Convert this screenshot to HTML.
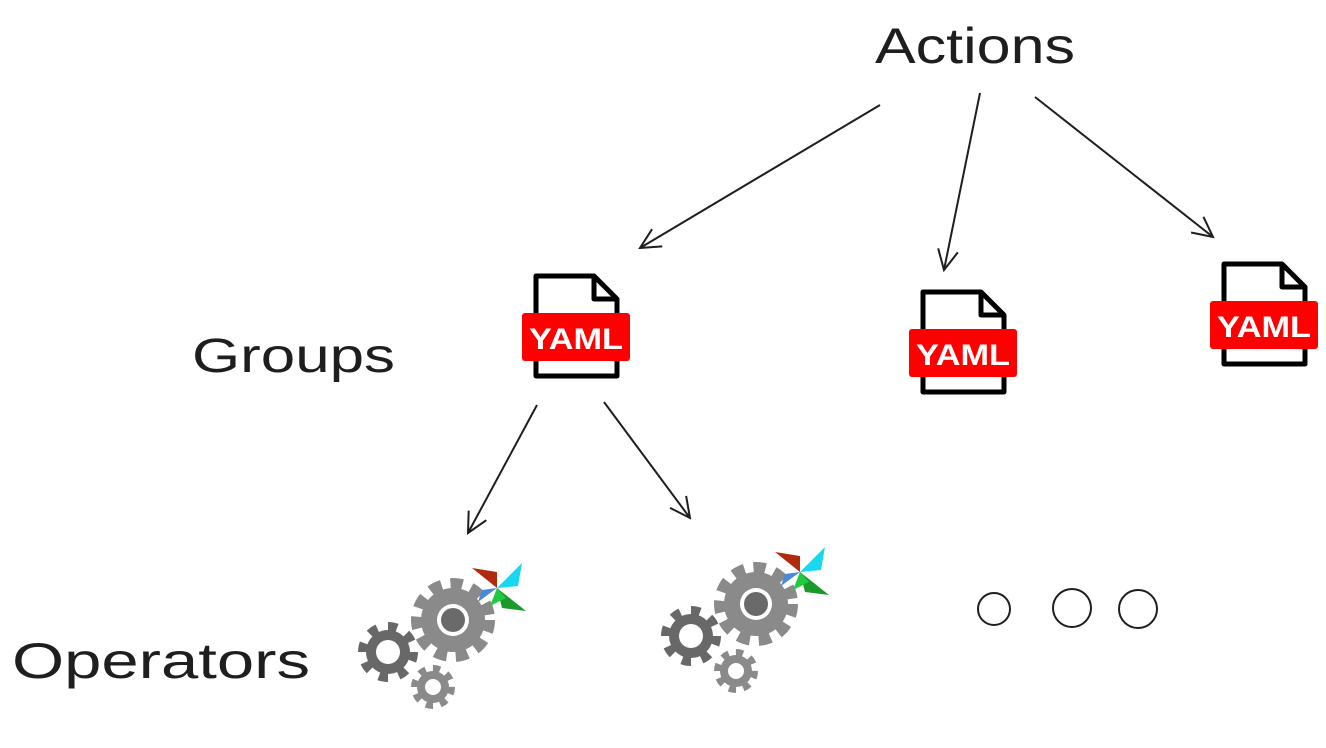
<!DOCTYPE html>
<html><head><meta charset="utf-8"><style>
html,body{margin:0;padding:0;background:#fff;}
svg{display:block}
</style></head><body>
<svg width="1326" height="748" viewBox="0 0 1326 748" xmlns="http://www.w3.org/2000/svg">
<defs>
<marker id="ah" markerWidth="24" markerHeight="24" refX="22" refY="12" orient="auto" markerUnits="userSpaceOnUse">
<path d="M2,2 L22,12 L2,22" fill="none" stroke="#1e1e1e" stroke-width="2"/>
</marker>
<g id="yaml">
<path d="M14,3 H72 L95,26 V103 H14 Z" fill="#fff" stroke="#000" stroke-width="5" stroke-linejoin="round"/>
<path d="M72,3 V26 H95" fill="none" stroke="#000" stroke-width="5" stroke-linejoin="round"/>
<rect x="0" y="40" width="108" height="48" rx="3" fill="#f00"/>
<text x="54" y="76" text-anchor="middle" font-family="Liberation Sans, sans-serif" font-weight="bold" font-size="30" textLength="94" lengthAdjust="spacingAndGlyphs" fill="#fff">YAML</text>
</g>
<g id="gears">
<circle cx="453" cy="620" r="32" fill="#8a8a8a"/>
<circle cx="453" cy="620" r="36" fill="none" stroke="#8a8a8a" stroke-width="12" stroke-dasharray="12 8.85"/>
<circle cx="453" cy="620" r="16" fill="#fff"/>
<circle cx="453" cy="620" r="12" fill="#6a6a6a"/>
<circle cx="388" cy="652" r="22" fill="#686868"/>
<circle cx="388" cy="652" r="25" fill="none" stroke="#686868" stroke-width="10" stroke-dasharray="9 10.6"/>
<circle cx="388" cy="652" r="12" fill="#fff"/>
<circle cx="433" cy="687" r="16" fill="#8a8a8a"/>
<circle cx="433" cy="687" r="18" fill="none" stroke="#8a8a8a" stroke-width="8" stroke-dasharray="7 7.1"/>
<circle cx="433" cy="687" r="8" fill="#fff"/>
<path d="M497,588 L472,568 L497,572 Z" fill="#b02a10"/>
<path d="M497,588 L522,563 L518,586 Z" fill="#18d8f0"/>
<path d="M497,588 L526,611 L502,608 Z" fill="#1a9a2a"/>
<path d="M497,588 L478,602 L482,590 Z" fill="#4a8ad8"/>
<path d="M497,588 L490,606 L506,598 Z" fill="#22c840"/>
</g>
</defs>

<text x="875" y="63" font-family="Liberation Sans, sans-serif" font-size="50" textLength="200" lengthAdjust="spacingAndGlyphs" fill="#1e1e1e">Actions</text>
<text x="192" y="372" font-family="Liberation Sans, sans-serif" font-size="48" textLength="203" lengthAdjust="spacingAndGlyphs" fill="#1e1e1e">Groups</text>
<text x="12" y="678" font-family="Liberation Sans, sans-serif" font-size="50" textLength="298" lengthAdjust="spacingAndGlyphs" fill="#1e1e1e">Operators</text>

<g stroke="#1e1e1e" stroke-width="2" fill="none" marker-end="url(#ah)">
<line x1="880" y1="105" x2="640" y2="248"/>
<line x1="980" y1="93" x2="944" y2="270"/>
<line x1="1035" y1="97" x2="1213" y2="237"/>
<line x1="537" y1="405" x2="468" y2="533"/>
<line x1="604" y1="402" x2="690" y2="518"/>
</g>

<use href="#yaml" transform="translate(522,273)"/>
<use href="#yaml" transform="translate(909,289)"/>
<use href="#yaml" transform="translate(1210,261)"/>

<use href="#gears"/>
<use href="#gears" transform="translate(303,-16)"/>

<g fill="none" stroke="#1e1e1e" stroke-width="2">
<circle cx="994" cy="609" r="16"/>
<circle cx="1072" cy="608" r="19"/>
<circle cx="1138" cy="609" r="19"/>
</g>
</svg>
</body></html>
